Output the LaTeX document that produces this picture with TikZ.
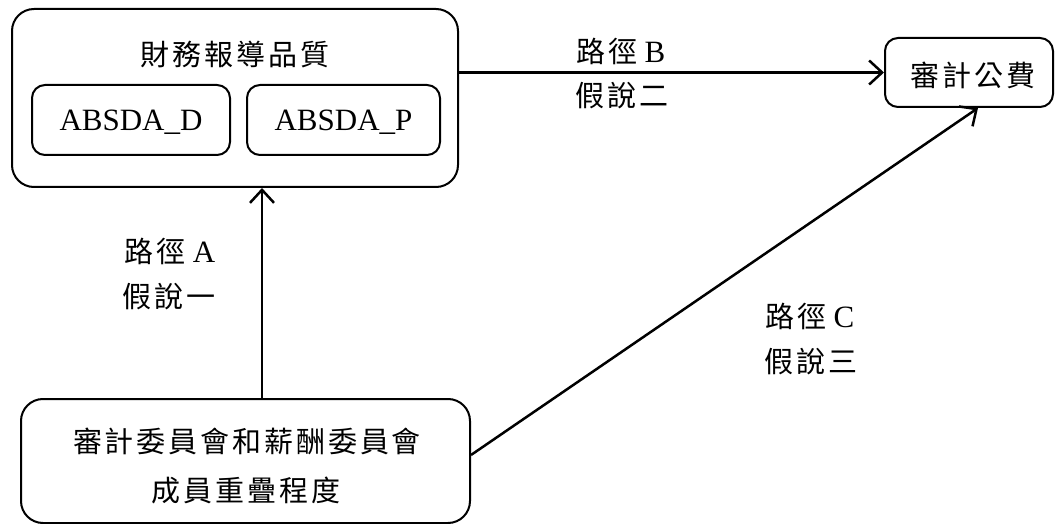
\documentclass[tikz,border=0pt]{standalone}
\usepackage{fontspec}
\setmainfont{Liberation Serif}
\newfontfamily\cjk[LetterSpace=10]{Noto Sans CJK TC}
\usetikzlibrary{arrows.meta,positioning,calc}
\tikzset{
  bigbox/.style={draw, line width=2pt, rounded corners=22pt, inner sep=0pt},
  smallbox/.style={draw, line width=2pt, rounded corners=13pt, inner sep=0pt},
  txt/.style={inner sep=0pt, font=\fontsize{29}{34}\selectfont},
  lat/.style={font=\fontsize{31}{36}\selectfont},
  arr/.style={line width=2.5pt, -{Straight Barb[length=13pt,width=24pt,line width=2.5pt]}}
}
\begin{document}
\begin{tikzpicture}[x=1pt,y=-1pt]
\useasboundingbox (0,0) rectangle (1061,524);
% boxes
\node[bigbox, minimum width=446pt, minimum height=178pt] (fq) at (235,98) {};
\node[txt] (fqt) at (235,55) {\cjk 財務報導品質};
\node[smallbox, minimum width=198pt, minimum height=70pt] (d) at (131,120) {};
\node[txt, lat] (dt) at (131,122) {ABSDA\_D};
\node[smallbox, minimum width=193pt, minimum height=70pt] (p) at (343.5,120) {};
\node[txt, lat] (pt) at (343.5,122) {ABSDA\_P};
\node[smallbox, minimum width=168pt, minimum height=69pt] (fee) at (969,72.5) {};
\node[txt] (feet) at (973,75) {\cjk 審計公費};
\node[bigbox, minimum width=449pt, minimum height=124pt] (ov) at (245.5,461) {};
\node[txt] (ov1) at (247,441) {\cjk 審計委員會和薪酬委員會};
\node[txt] (ov2) at (246,491) {\cjk 成員重疊程度};
% arrows
\draw[arr] (fee.west -| fq.east) -- (fee.west);
\draw[arr] ([xshift=16.5pt]ov.north) -- ([xshift=16.5pt]ov.north |- fq.south);
\draw[arr] ([yshift=6pt]ov.east) -- ([xshift=9pt]fee.south);
% labels
\node[txt] (lb1) at (621,51) {{\cjk 路徑} {\fontsize{31}{36}\selectfont B}};
\node[txt] (lb2) at (622,96) {\cjk 假說二};
\node[txt] (la1) at (170,251) {{\cjk 路徑} {\fontsize{31}{36}\selectfont A}};
\node[txt] (la2) at (169,297) {\cjk 假說一};
\node[txt] (lc1) at (810,316) {{\cjk 路徑} {\fontsize{31}{36}\selectfont C}};
\node[txt] (lc2) at (811,362) {\cjk 假說三};
\end{tikzpicture}
\end{document}
